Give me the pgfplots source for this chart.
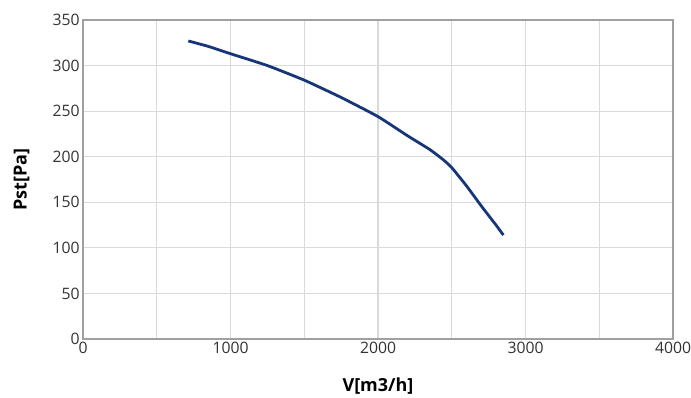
\documentclass[border=0pt]{standalone}
\usepackage{pgfplots}
\pgfplotsset{compat=1.18}
\usepackage{fontspec}
\setmainfont{Open Sans}
\definecolor{curve}{RGB}{22,54,120}
\definecolor{gridc}{RGB}{218,218,218}
\definecolor{axisc}{RGB}{160,160,160}
\definecolor{tickc}{RGB}{51,51,51}
\begin{document}
\begin{tikzpicture}[x=1pt,y=1pt]
\useasboundingbox (-62.25,-44.25) rectangle (456,254.25);
\begin{axis}[
  at={(0,0)}, anchor=south west,
  scale only axis,
  width=442.5pt, height=239.25pt,
  xmin=0, xmax=4000, ymin=0, ymax=350,
  xtick={0,500,...,4000},
  xticklabels={0,,1000,,2000,,3000,,4000},
  ytick={0,50,...,350},
  xmajorgrids, ymajorgrids,
  major grid style={gridc, line width=0.8pt},
  axis line style={axisc, line width=1pt},
  tick style={draw=none},
  tick label style={font=\fontsize{11.8}{13}\selectfont, text=tickc},
  /pgf/number format/assume math mode=true,
  /pgf/number format/1000 sep={},
  xticklabel style={yshift=1pt},
  yticklabel style={xshift=1pt},
  xlabel={\textbf{V[m3/h]}},
  ylabel={\textbf{Pst[Pa]}},
  label style={font=\fontsize{13.5}{15}\selectfont, text=black},
  xlabel style={at={(axis description cs:0.5,0)}, anchor=center, yshift=-35pt},
  ylabel style={at={(axis description cs:0,0.5)}, anchor=center, yshift=46pt},
]
\addplot[curve, line width=2.1pt, smooth, tension=0.3] coordinates {
(714,327)
(850,321)
(1000,313)
(1250,300)
(1500,284)
(1750,265)
(2000,244)
(2200,223)
(2350,208)
(2440,197)
(2500,188)
(2600,168)
(2700,146)
(2800,125)
(2850,114)
};
\end{axis}
\end{tikzpicture}
\end{document}
